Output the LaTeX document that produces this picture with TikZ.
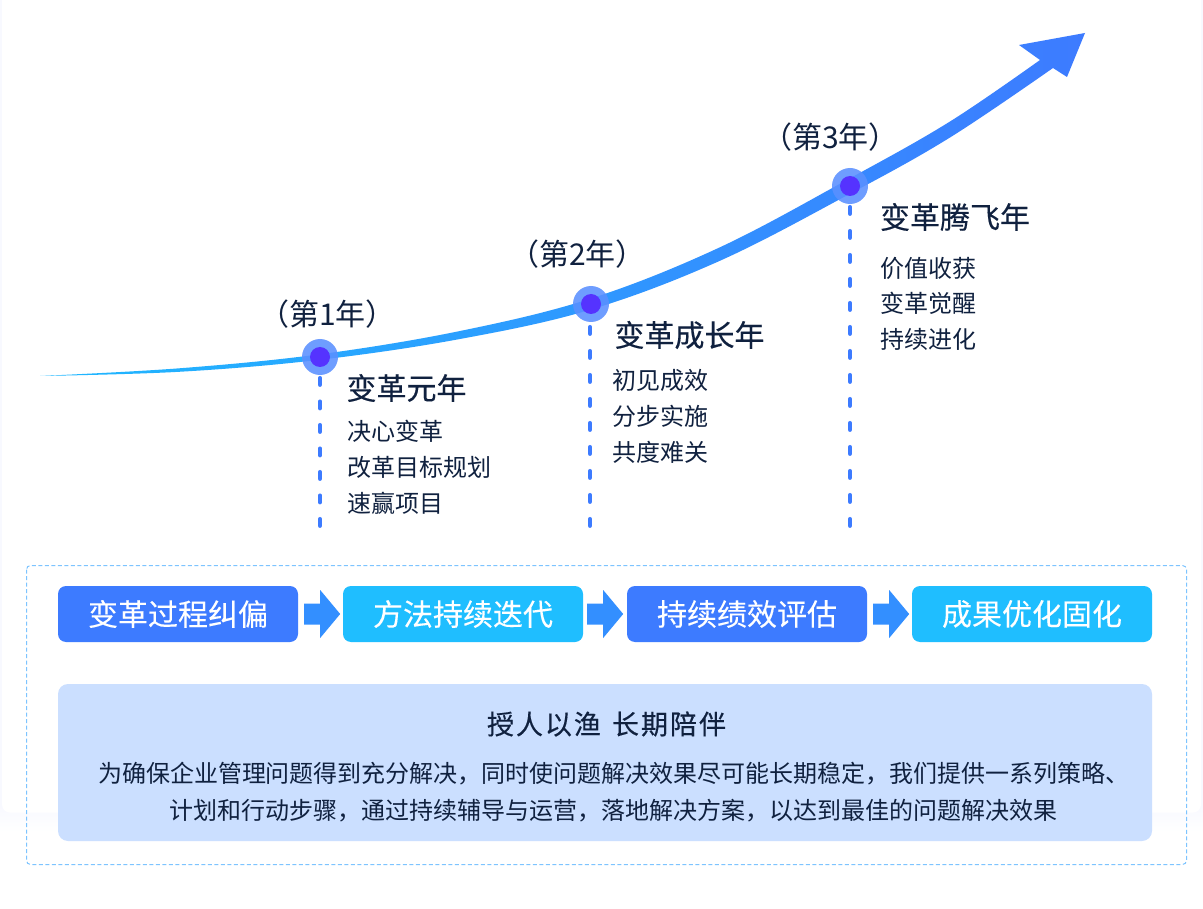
\documentclass[tikz,border=0pt]{standalone}
\usepackage{fontspec}
\usetikzlibrary{calc}
\setmainfont{Noto Sans CJK SC}
\newfontfamily\cjkmed[FakeBold=0.35]{Noto Sans CJK SC}
\newfontfamily\cjkstep[FakeBold=0.15]{Noto Sans CJK SC}
\newfontfamily\cjktitle[FakeBold=0.35,LetterSpace=7.4]{Noto Sans CJK SC}
\definecolor{ink}{HTML}{10213F}
\definecolor{bluebox}{HTML}{3D7BFF}
\definecolor{cyanbox}{HTML}{1FBEFF}
\definecolor{flowarrow}{HTML}{338FFF}
\definecolor{panel}{HTML}{CBDFFF}
\definecolor{frame}{HTML}{7DC4FF}
\definecolor{ring}{HTML}{5A90FF}
\definecolor{core}{HTML}{5533FF}
\definecolor{curvestart}{HTML}{1FB8FF}
\definecolor{edgetint}{HTML}{F8F9FF}
\tikzset{
  txt/.style={inner sep=0pt,outer sep=0pt,text=ink,anchor=west},
  year/.style={txt,anchor=center,font=\fontsize{30}{30}\selectfont},
  head/.style={txt,font=\cjkmed\fontsize{30}{30}\selectfont},
  item/.style={txt,font=\fontsize{24}{24}\selectfont},
  stepbox/.style={rounded corners=8pt,minimum width=240pt,minimum height=56pt,inner sep=0pt,text=white,font=\cjkstep\fontsize{30}{30}\selectfont},
  ringdot/.style={circle,minimum size=36pt,inner sep=0pt,fill=ring,fill opacity=.88},
  coredot/.style={circle,minimum size=20pt,inner sep=0pt,fill=core},
  drop/.style={draw=bluebox,line width=4.5pt,line cap=round,dash pattern=on 6.5pt off 17.5pt},
}
\newcommand{\flowarrow}[1]{%
  \fill[flowarrow,shift={(#1)}] (6,-10.5)--(22,-10.5)--(22,-24)--(42,0)--(22,24)--(22,10.5)--(6,10.5)--cycle;}
\begin{document}
\begin{tikzpicture}[x=1pt,y=-1pt]
\useasboundingbox (0,0) rectangle (1203,909);
\fill[white] (0,0) rectangle (1203,909);
\fill[edgetint] (0,0) rectangle (3,812);
\fill[edgetint] (1200,0) rectangle (1203,812);
\shade[top color=edgetint,bottom color=white] (0,806) rectangle (1203,832);
\fill[white,rounded corners=8pt] (2,-20) rectangle (1201,812.5);

% growth curve
\shade[left color=curvestart,middle color=curvestart!45!bluebox,right color=bluebox]
  plot[smooth,tension=.6] coordinates {(40,376) (180,368.25) (320,354.25) (460,331) (591,298.5) (720,247.25) (850,178.25) (950,121.5) (1040,60)}
  -- (1019,45) -- (1085,33) -- (1067,77) -- (1053,68)
  -- plot[smooth,tension=.6] coordinates {(1053,68) (950,137.5) (850,193.75) (720,260.75) (591,309.5) (460,339) (320,359.75) (180,371.75) (40,376)}
  -- cycle;

% year markers
\node[ringdot] (r1) at (320,357) {};
\node[ringdot] (r2) at (591,304) {};
\node[ringdot] (r3) at (850,186) {};
\node[coredot] (c1) at (r1) {};
\node[coredot] (c2) at (r2) {};
\node[coredot] (c3) at (r3) {};
\coordinate (e1) at (320,528);
\coordinate (e2) at (590,528);
\coordinate (e3) at (850,528);
\draw[drop,dash pattern=on 6.5pt off 17pt] (r1.south) ++(0,3) -- (e1);
\draw[drop] (r2.south) ++(-1,5) -- (e2);
\draw[drop] (r3.south) ++(0,3) -- (e3);

\node[year] (y1) at (327.5,314) {（第1年）};
\node[year] (y2) at (577.5,254) {（第2年）};
\node[year] (y3) at (830.5,137) {（第3年）};

\node[head] (h1) at (346.5,388) {变革元年};
\node[item] (a1) at (347,431) {决心变革};
\node[item] (a2) at (347,467) {改革目标规划};
\node[item] (a3) at (347,503) {速赢项目};

\node[head] (h2) at (614.5,335) {变革成长年};
\node[item] (b1) at (612.5,380.5) {初见成效};
\node[item] (b2) at (612.5,416.5) {分步实施};
\node[item] (b3) at (612.5,452.5) {共度难关};

\node[head] (h3) at (880,217) {变革腾飞年};
\node[item] (d1) at (880.5,268) {价值收获};
\node[item] (d2) at (880.5,303) {变革觉醒};
\node[item] (d3) at (880.5,339) {持续进化};

% lower frame
\draw[frame,line width=1pt,dash pattern=on 4pt off 2.5pt,rounded corners=4pt] (26.5,565.5) rectangle (1186.5,864.5);
\node[stepbox,fill=bluebox] (s1) at (178,614) {变革过程纠偏};
\node[stepbox,fill=cyanbox] (s2) at (463,614) {方法持续迭代};
\node[stepbox,fill=bluebox] (s3) at (747,614) {持续绩效评估};
\node[stepbox,fill=cyanbox] (s4) at (1032,614) {成果优化固化};
\flowarrow{s1.east}
\flowarrow{$(s2.east)+(-2,0)$}
\flowarrow{s3.east}

\fill[panel,rounded corners=10pt] (58,684) rectangle (1152,841);
\node[txt,anchor=center,font=\cjktitle\fontsize{27}{27}\selectfont] (t) at (606.5,724) {授人以渔\hspace{11pt}长期陪伴};
\node[txt,anchor=center,font=\fontsize{24}{24}\selectfont] (l1) at (614,774) {为确保企业管理问题得到充分解决，同时使问题解决效果尽可能长期稳定，我们提供一系列策略、};
\node[txt,anchor=center,font=\fontsize{24}{24}\selectfont] (l2) at (613.5,811) {计划和行动步骤，通过持续辅导与运营，落地解决方案，以达到最佳的问题解决效果};
\end{tikzpicture}
\end{document}
